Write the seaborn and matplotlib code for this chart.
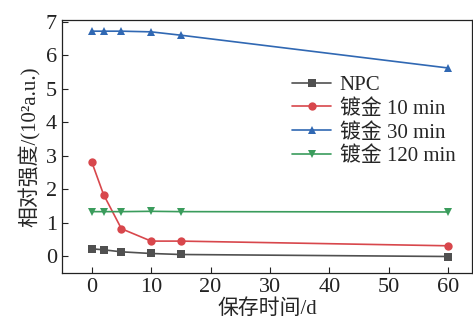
import matplotlib
matplotlib.use("Agg")
import matplotlib.pyplot as plt
import seaborn as sns
import pandas as pd

days = [0, 2, 5, 10, 15, 60]
npc = [0.22, 0.19, 0.13, 0.08, 0.05, -0.01]
gold10 = [2.82, 1.84, 0.82, 0.45, 0.45, 0.31]
gold30 = [6.72, 6.72, 6.72, 6.70, 6.60, 5.62]
gold120 = [1.33, 1.33, 1.33, 1.34, 1.33, 1.32]
labels = ["NPC", "镀金 10 min", "镀金 30 min", "镀金 120 min"]
colors = ["#505050", "#d8474c", "#3068b3", "#3a9c5c"]
markers = ["s", "o", "^", "v"]

sns.set_theme(style="ticks")
plt.rcParams['font.family'] = ['Liberation Serif', 'Noto Sans CJK SC']

frames = []
for lab, vals in zip(labels, [npc, gold10, gold30, gold120]):
    frames.append(pd.DataFrame({"day": days, "val": vals, "series": lab}))
df = pd.concat(frames, ignore_index=True)

fig, ax = plt.subplots(figsize=(4.73, 3.30), dpi=100)
fig.subplots_adjust(left=0.131, right=0.998, top=0.939, bottom=0.173)

sns.lineplot(data=df, x="day", y="val", hue="series", style="series",
             palette=colors, markers=markers, dashes=False, markersize=6,
             markeredgewidth=0, linewidth=1.2, ax=ax)

ax.set_xlim(-5, 64)
ax.set_ylim(-0.5, 7.05)
ax.set_xticks([0, 10, 20, 30, 40, 50, 60])
ax.set_yticks(range(0, 8))
ax.tick_params(direction="in", labelsize=16, length=4, width=0.8, colors="#222222")
for s in ax.spines.values():
    s.set_linewidth(0.9)
    s.set_color("#222222")

ax.set_xlabel("保存时间/d", fontsize=15, labelpad=2)
ax.set_ylabel("相对强度/(10²a.u.)", fontsize=15, labelpad=4)

leg = ax.legend(loc="upper left", bbox_to_anchor=(0.54, 0.815), frameon=False,
                fontsize=15, handlelength=1.9, handletextpad=0.4,
                labelspacing=0.2, borderaxespad=0)

fig.savefig("out.png", dpi=100)
